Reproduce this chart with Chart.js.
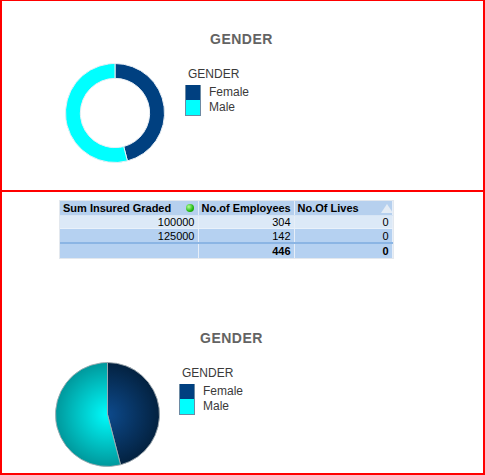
<!DOCTYPE html>
<html>
<head>
<meta charset="utf-8">
<script src="https://cdn.jsdelivr.net/npm/chart.js@4.4.1/dist/chart.umd.min.js"></script>
<style>
  body { margin: 0; background: #fff; font-family: "Liberation Sans", Arial, sans-serif; }
  #page { position: relative; width: 485px; height: 475px; overflow: hidden; }
  .frame { position: absolute; box-sizing: border-box; border: 2px solid #ff0000; }
  .title { position: absolute; font: bold 14px "Liberation Sans", Arial, sans-serif; color: #636363; letter-spacing: 0.5px; white-space: nowrap; }
  .legend { position: absolute; font: 12px "Liberation Sans", Arial, sans-serif; color: #3a3a3a; }
  .legend .lt { height: 16px; line-height: 16px; margin-left: 3px; margin-bottom: 3px; }
  .legend .row { height: 15px; line-height: 15px; position: relative; padding-left: 24px; }
  .legend .sw { position: absolute; left: 0; top: 0; width: 14px; height: 15px; border-left: 1px solid #6d8aa3; border-right: 1px solid #6d8aa3; box-sizing: content-box; }
  .legend .row:first-of-type .sw { border-top: 1px solid #6d8aa3; top: -1px; }
  .legend .row:last-child .sw { border-bottom: 1px solid #6d8aa3; }
  canvas { position: absolute; }
  table { position: absolute; left: 60px; top: 201px; width: 332px; table-layout: fixed; border-collapse: collapse; font: 11px "Liberation Sans", Arial, sans-serif; color: #000; outline: 1px solid #e3e8ee; }
  td { padding: 0 3px; border-right: 1px solid #e6eef8; white-space: nowrap; overflow: hidden; position: relative; }
  td.n { text-align: right; }
  tr.h td { background: #b6d0ee; font-weight: bold; height: 14px; border-bottom: 1px solid #d7e5f5; }
  tr.r1 td { background: #dce9f7; height: 12px; border-bottom: 1px solid #e9f1fa; }
  tr.r2 td { background: #b5d1f1; height: 13px; border-bottom: 2px solid #8bb5e4; }
  tr.t td { background: #b5d1f1; height: 14px; font-weight: bold; }
  .dot { position: absolute; left: 126px; top: 3px; width: 8px; height: 8px; border-radius: 50%; background: radial-gradient(circle at 35% 35%, #b6ff9a, #1fb80f 60%, #137a08); }
  .tri { position: absolute; left: 86px; top: 3px; width: 0; height: 0; border-left: 6px solid transparent; border-right: 6px solid transparent; border-bottom: 9px solid #e4ecf5; }
</style>
</head>
<body>
<div id="page">
  <div class="frame" style="left:0;top:0;width:485px;height:192px;border-top-width:1px;"></div>
  <div class="frame" style="left:0;top:190px;width:485px;height:285px;border-top-width:2px;"></div>

  <div class="title" style="left:210px;top:31px;">GENDER</div>
  <canvas id="donut"></canvas>
  <div class="legend" id="legend1" style="left:185px;top:66px;"></div>

  <table id="grid"></table>

  <div class="title" style="left:200px;top:330px;">GENDER</div>
  <canvas id="pie"></canvas>
  <div class="legend" id="legend2" style="left:179px;top:365px;"></div>
</div>

<script>
// chart data
const genders = ["Female", "Male"];
const genderCounts = [205, 241];
const genderColors = ["#004080", "#00ffff"];

// table data
const tableHeaders = ["Sum Insured Graded", "No.of Employees", "No.Of Lives"];
const sumInsured = [100000, 125000];
const employees = [304, 142];
const lives = [0, 0];

// gradient stops for the shaded pie
const pieInner = ["#0d4a8c", "#00fbfb"];
const pieOuter = ["#03213f", "#00979b"];

function setupCanvas(id, left, top, size) {
  const c = document.getElementById(id);
  c.width = size;
  c.height = size;
  c.style.left = left + "px";
  c.style.top = top + "px";
  c.style.width = size + "px";
  c.style.height = size + "px";
  return c;
}

function buildLegend(el, chart) {
  el.innerHTML = "";
  const t = document.createElement("div");
  t.className = "lt";
  t.textContent = "GENDER";
  el.appendChild(t);
  const items = chart.options.plugins.legend.labels.generateLabels(chart);
  items.forEach((it, i) => {
    const row = document.createElement("div");
    row.className = "row";
    const sw = document.createElement("span");
    sw.className = "sw";
    sw.style.background = genderColors[it.index];
    row.appendChild(sw);
    row.appendChild(document.createTextNode(it.text));
    el.appendChild(row);
  });
}

Chart.defaults.font.family = "'Liberation Sans', Arial, sans-serif";

const donutCanvas = setupCanvas("donut", 63, 61, 104);
const donutChart = new Chart(donutCanvas, {
  type: "doughnut",
  data: {
    labels: genders,
    datasets: [{
      data: genderCounts,
      backgroundColor: genderColors,
      borderColor: "#e8eef4",
      borderWidth: 1
    }]
  },
  options: {
    responsive: false,
    animation: false,
    cutout: "70%",
    layout: { padding: 2 },
    plugins: { legend: { display: false }, tooltip: { enabled: false } }
  }
});
buildLegend(document.getElementById("legend1"), donutChart);

function pieFill(ctx) {
  const chart = ctx.chart;
  const area = chart.chartArea;
  if (!area) return genderColors[ctx.dataIndex];
  const cx = (area.left + area.right) / 2;
  const cy = (area.top + area.bottom) / 2;
  const r = Math.min(area.right - area.left, area.bottom - area.top) / 2;
  const g = chart.ctx.createRadialGradient(cx, cy, 0, cx, cy, r);
  g.addColorStop(0, pieInner[ctx.dataIndex]);
  g.addColorStop(1, pieOuter[ctx.dataIndex]);
  return g;
}

const pieCanvas = setupCanvas("pie", 53, 360, 109);
const pieChart = new Chart(pieCanvas, {
  type: "pie",
  data: {
    labels: genders,
    datasets: [{
      data: genderCounts,
      backgroundColor: pieFill,
      borderColor: "rgba(160,170,175,0.9)",
      borderWidth: 1
    }]
  },
  options: {
    responsive: false,
    animation: false,
    layout: { padding: 2 },
    plugins: { legend: { display: false }, tooltip: { enabled: false } }
  }
});
buildLegend(document.getElementById("legend2"), pieChart);

// straight table
const grid = document.getElementById("grid");
const colWidths = [138, 96, 98];
let html = '<colgroup>' + colWidths.map(w => '<col style="width:' + w + 'px">').join('') + '</colgroup>';
html += '<tr class="h">';
html += '<td>' + tableHeaders[0] + '<span class="dot"></span></td>';
html += '<td>' + tableHeaders[1] + '</td>';
html += '<td>' + tableHeaders[2] + '<span class="tri"></span></td></tr>';
sumInsured.forEach((s, i) => {
  html += '<tr class="r' + (i + 1) + '"><td class="n">' + s + '</td><td class="n">' + employees[i] + '</td><td class="n">' + lives[i] + '</td></tr>';
});
const totEmp = employees.reduce((a, b) => a + b, 0);
const totLives = lives.reduce((a, b) => a + b, 0);
html += '<tr class="t"><td></td><td class="n">' + totEmp + '</td><td class="n">' + totLives + '</td></tr>';
grid.innerHTML = html;
</script>
</body>
</html>
